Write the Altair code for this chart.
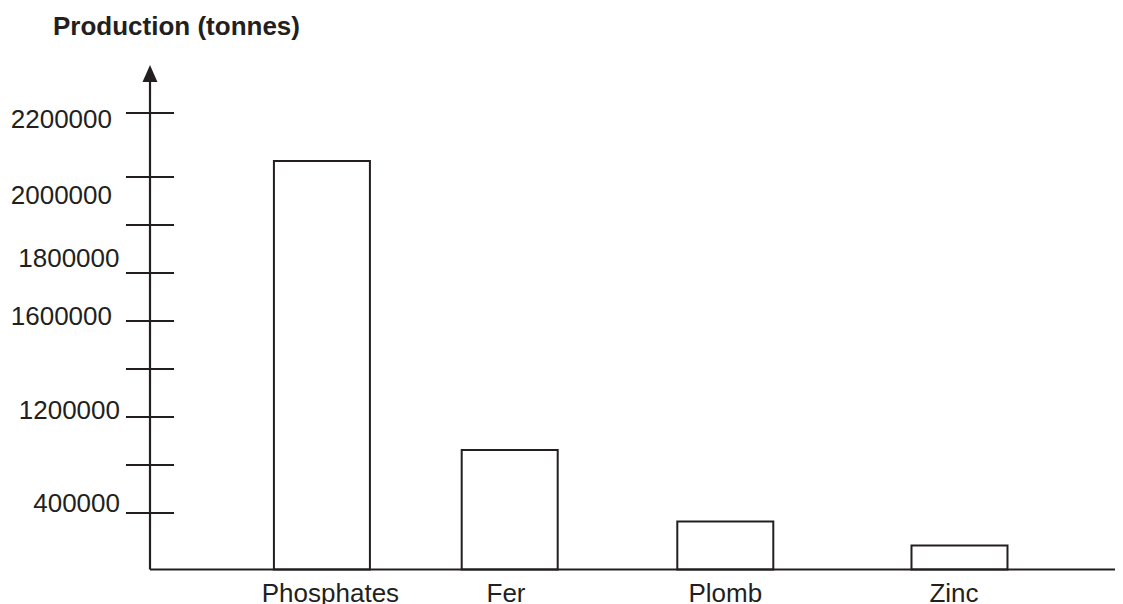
import altair as alt
import pandas as pd

# ---------------- data ----------------
CATEGORIES = ["Phosphates", "Fer", "Plomb", "Zinc"]
PRODUCTION = [2050000, 925000, 340000, 170000]

TICK_VALUES = [400000, 800000, 1200000, 1400000, 1600000, 1800000, 1900000, 2000000, 2200000]
TICK_LABEL_VALUES = [2200000, 2000000, 1800000, 1600000, 1200000, 400000]
TICK_LABELS = ["2200000", "2000000", "1800000", "1600000", "1200000", "400000"]

TITLE = "Production (tonnes)"

# ---------------- style ----------------
INK = "#231f20"
FONT = "Liberation Sans"
FS = 26

# hand-drawn axis: piecewise-linear scales reproduce the uneven spacing
Y_DOMAIN = [0, 400000, 1200000, 1600000, 1800000, 2000000, 2200000]
Y_RANGE = [509.5, 453, 357, 261, 213, 117, 53]
X_DOMAIN = [0, 1, 2, 3]
X_RANGE = [167.5, 359.7, 575.3, 815]

yscale = alt.Scale(domain=Y_DOMAIN, range=Y_RANGE, nice=False, zero=False)
xscale = alt.Scale(domain=X_DOMAIN, range=X_RANGE, nice=False, zero=False)

# per-label nudges (style only)
YLAB_DX = [-38, -38, -30.5, -38, -30, -30]
YLAB_DY = [15.3, 27, -6.3, 4, 2.3, -1.3]
XLAB_DX = [8.5, -3.7, 0, -5.5]

df = pd.DataFrame({
    "idx": list(range(len(CATEGORIES))),
    "cat": CATEGORIES,
    "value": PRODUCTION,
})

bars = alt.Chart(df).mark_bar(
    fill="white", stroke=INK, strokeWidth=2, size=96
).encode(
    x=alt.X("idx:Q", scale=xscale, axis=None),
    y=alt.Y("value:Q", scale=yscale, axis=None),
    y2=alt.datum(0),
)

ticks = alt.Chart(pd.DataFrame({"v": TICK_VALUES})).mark_rule(
    stroke=INK, strokeWidth=2
).encode(
    y=alt.Y("v:Q", scale=yscale, axis=None),
    x=alt.value(-24),
    x2=alt.value(24),
)

vaxis = alt.Chart(pd.DataFrame({"v": [0]})).mark_rule(
    stroke=INK, strokeWidth=2.2
).encode(
    x=alt.value(0),
    y=alt.Y("v:Q", scale=yscale, axis=None),
    y2=alt.value(20),
)

haxis = alt.Chart(pd.DataFrame({"v": [0]})).mark_rule(
    stroke=INK, strokeWidth=2.2
).encode(
    y=alt.Y("v:Q", scale=yscale, axis=None),
    x=alt.value(0),
    x2=alt.value(968),
)

up_arrow = alt.Chart(pd.DataFrame({"v": [0]})).mark_point(
    shape="M0,-1L0.88,1L-0.88,1Z", filled=True, size=289,
    color=INK, opacity=1, strokeWidth=0
).encode(x=alt.value(0), y=alt.value(13.5))

right_arrow = alt.Chart(pd.DataFrame({"v": [0]})).mark_point(
    shape="M1,0L-1,0.88L-1,-0.88Z", filled=True, size=289,
    color=INK, opacity=1, strokeWidth=0
).encode(
    x=alt.value(975.5),
    y=alt.Y("v:Q", scale=yscale, axis=None),
)

ylabels = [
    alt.Chart(pd.DataFrame({"v": [v], "t": [t]})).mark_text(
        align="right", baseline="alphabetic", dx=dx, dy=dy,
        font=FONT, fontSize=FS, color=INK
    ).encode(
        x=alt.value(0),
        y=alt.Y("v:Q", scale=yscale, axis=None),
        text="t:N",
    )
    for v, t, dx, dy in zip(TICK_LABEL_VALUES, TICK_LABELS, YLAB_DX, YLAB_DY)
]

xlabels = [
    alt.Chart(pd.DataFrame({"idx": [i], "cat": [c], "z": [0]})).mark_text(
        align="center", baseline="alphabetic", dx=dx, dy=32.5,
        font=FONT, fontSize=FS, color=INK
    ).encode(
        x=alt.X("idx:Q", scale=xscale, axis=None),
        y=alt.Y("z:Q", scale=yscale, axis=None),
        text="cat:N",
    )
    for i, c, dx in zip(range(len(CATEGORIES)), CATEGORIES, XLAB_DX)
]

title = alt.Chart(pd.DataFrame({"t": [TITLE]})).mark_text(
    align="left", baseline="alphabetic", font=FONT, fontSize=FS,
    fontWeight="bold", color=INK
).encode(x=alt.value(-97), y=alt.value(-25), text="t:N")

chart = alt.layer(
    bars, ticks, vaxis, haxis, up_arrow, right_arrow, *ylabels, *xlabels, title
).properties(
    width=965,
    height=509.5,
    autosize=alt.AutoSizeParams(type="none"),
    padding={"left": 142, "top": 52, "right": 0, "bottom": 34.5},
    background="white",
).configure_view(stroke=None)

chart.save("out.html", embed_options={"renderer": "svg", "actions": False})
